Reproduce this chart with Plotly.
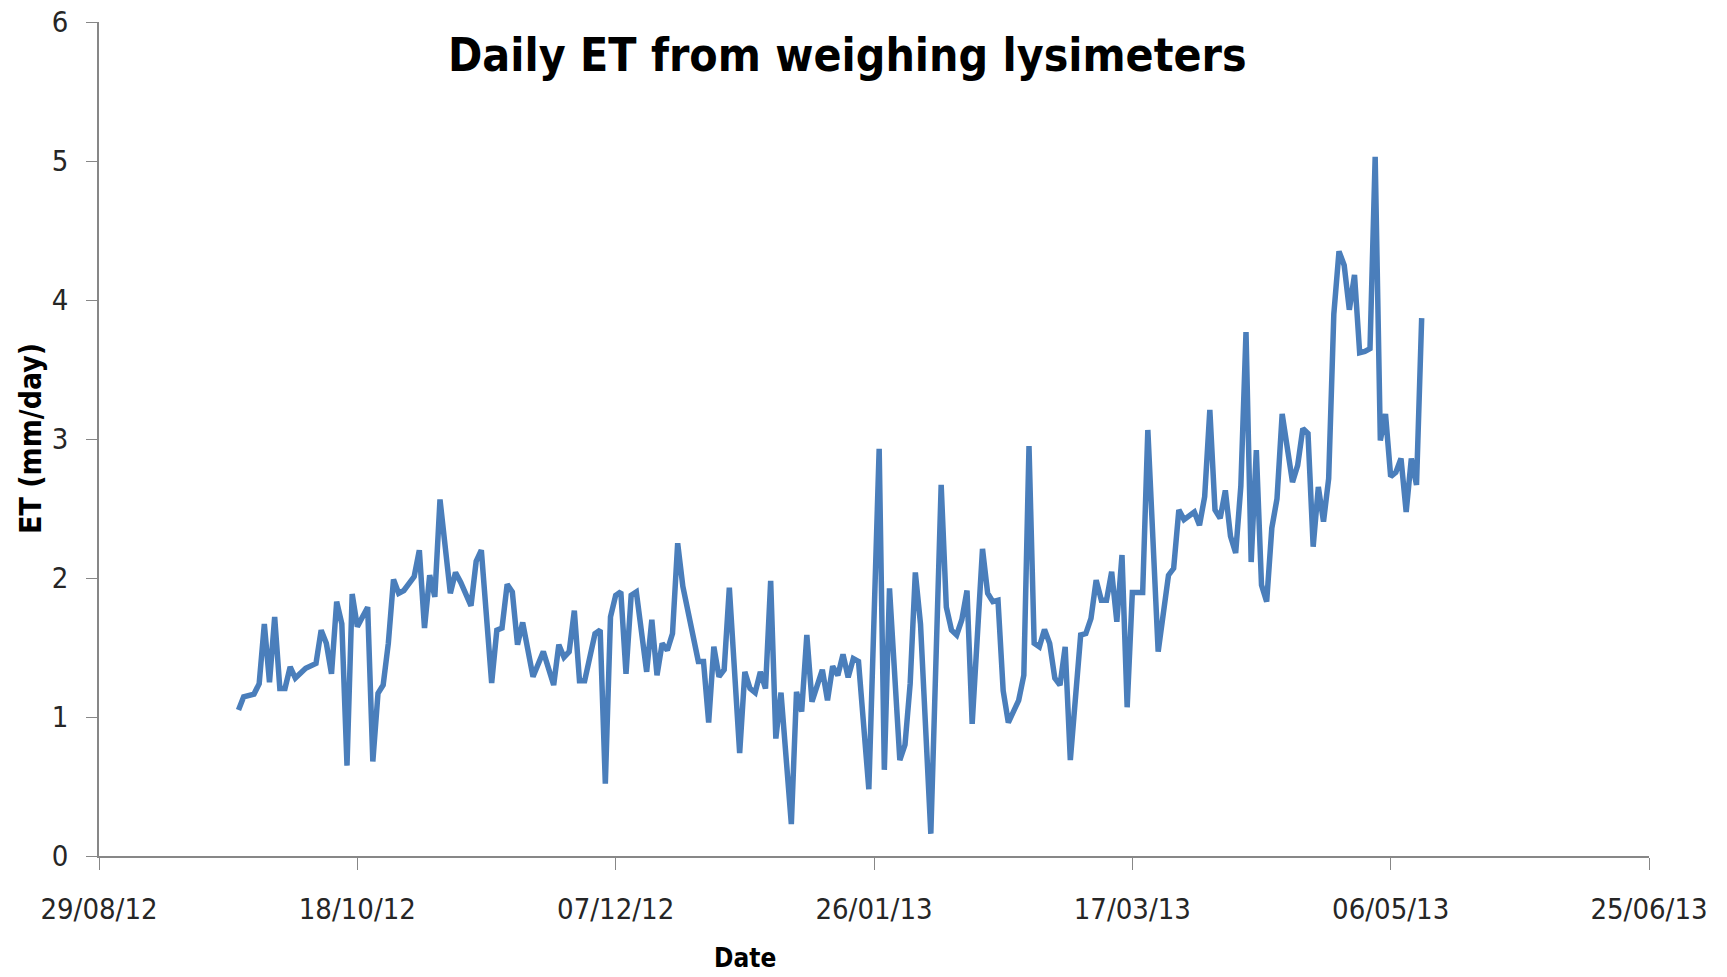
import plotly.graph_objects as go

dates = [
    "2012-09-25", "2012-09-26", "2012-09-28", "2012-09-29", "2012-09-30",
    "2012-10-01", "2012-10-02", "2012-10-03", "2012-10-04", "2012-10-05",
    "2012-10-06", "2012-10-08", "2012-10-10", "2012-10-11", "2012-10-12",
    "2012-10-13", "2012-10-14", "2012-10-15", "2012-10-16", "2012-10-17",
    "2012-10-18", "2012-10-20", "2012-10-21", "2012-10-22", "2012-10-23",
    "2012-10-24", "2012-10-25", "2012-10-26", "2012-10-27", "2012-10-29",
    "2012-10-30", "2012-10-31", "2012-11-01", "2012-11-02", "2012-11-03",
    "2012-11-05", "2012-11-06", "2012-11-07", "2012-11-09", "2012-11-10",
    "2012-11-11", "2012-11-13", "2012-11-14", "2012-11-15", "2012-11-16",
    "2012-11-17", "2012-11-18", "2012-11-19", "2012-11-21", "2012-11-23",
    "2012-11-25", "2012-11-26", "2012-11-27", "2012-11-28", "2012-11-29",
    "2012-11-30", "2012-12-01", "2012-12-03", "2012-12-04", "2012-12-05",
    "2012-12-06", "2012-12-07", "2012-12-08", "2012-12-09", "2012-12-10",
    "2012-12-11", "2012-12-13", "2012-12-14", "2012-12-15", "2012-12-16",
    "2012-12-17", "2012-12-18", "2012-12-19", "2012-12-20", "2012-12-23",
    "2012-12-24", "2012-12-25", "2012-12-26", "2012-12-27", "2012-12-28",
    "2012-12-29", "2012-12-31", "2013-01-01", "2013-01-02", "2013-01-03",
    "2013-01-04", "2013-01-05", "2013-01-06", "2013-01-07", "2013-01-08",
    "2013-01-10", "2013-01-11", "2013-01-12", "2013-01-13", "2013-01-14",
    "2013-01-16", "2013-01-17", "2013-01-18", "2013-01-19", "2013-01-20",
    "2013-01-21", "2013-01-22", "2013-01-23", "2013-01-25", "2013-01-27",
    "2013-01-28", "2013-01-29", "2013-01-31", "2013-02-01", "2013-02-02",
    "2013-02-03", "2013-02-04", "2013-02-06", "2013-02-08", "2013-02-09",
    "2013-02-10", "2013-02-11", "2013-02-12", "2013-02-13", "2013-02-14",
    "2013-02-16", "2013-02-17", "2013-02-18", "2013-02-19", "2013-02-20",
    "2013-02-21", "2013-02-23", "2013-02-24", "2013-02-25", "2013-02-26",
    "2013-02-27", "2013-02-28", "2013-03-01", "2013-03-02", "2013-03-03",
    "2013-03-04", "2013-03-05", "2013-03-07", "2013-03-08", "2013-03-09",
    "2013-03-10", "2013-03-11", "2013-03-12", "2013-03-13", "2013-03-14",
    "2013-03-15", "2013-03-16", "2013-03-17", "2013-03-18", "2013-03-19",
    "2013-03-20", "2013-03-22", "2013-03-24", "2013-03-25", "2013-03-26",
    "2013-03-27", "2013-03-29", "2013-03-30", "2013-03-31", "2013-04-01",
    "2013-04-02", "2013-04-03", "2013-04-04", "2013-04-05", "2013-04-06",
    "2013-04-07", "2013-04-08", "2013-04-09", "2013-04-10", "2013-04-11",
    "2013-04-12", "2013-04-13", "2013-04-14", "2013-04-15", "2013-04-17",
    "2013-04-18", "2013-04-19", "2013-04-20", "2013-04-21", "2013-04-22",
    "2013-04-23", "2013-04-24", "2013-04-25", "2013-04-26", "2013-04-27",
    "2013-04-28", "2013-04-29", "2013-04-30", "2013-05-01", "2013-05-02",
    "2013-05-03", "2013-05-04", "2013-05-05", "2013-05-06", "2013-05-07",
    "2013-05-08", "2013-05-09", "2013-05-10", "2013-05-11", "2013-05-12",
]

et_mm_day = [
    1.05, 1.145, 1.165, 1.24, 1.67,
    1.25, 1.72, 1.205, 1.205, 1.36,
    1.28, 1.35, 1.385, 1.625, 1.53,
    1.31, 1.83, 1.67, 0.65, 1.885,
    1.65, 1.79, 0.68, 1.17, 1.23,
    1.53, 1.99, 1.89, 1.91, 2.01,
    2.20, 1.64, 2.02, 1.865, 2.565,
    1.89, 2.04, 1.97, 1.80, 2.12,
    2.20, 1.245, 1.625, 1.64, 1.955,
    1.90, 1.52, 1.68, 1.29, 1.47,
    1.23, 1.52, 1.43, 1.47, 1.765,
    1.26, 1.26, 1.60, 1.625, 0.52,
    1.72, 1.875, 1.90, 1.31, 1.875,
    1.90, 1.325, 1.70, 1.30, 1.53,
    1.48, 1.60, 2.25, 1.94, 1.40,
    1.40, 0.96, 1.505, 1.29, 1.34,
    1.93, 0.74, 1.325, 1.205, 1.175,
    1.325, 1.205, 1.98, 0.845, 1.175,
    0.23, 1.18, 1.04, 1.59, 1.11,
    1.34, 1.12, 1.365, 1.30, 1.45,
    1.285, 1.42, 1.40, 0.48, 2.93,
    0.62, 1.925, 0.69, 0.80, 1.24,
    2.04, 1.67, 0.16, 2.67, 1.79,
    1.625, 1.59, 1.70, 1.91, 0.95,
    2.21, 1.89, 1.83, 1.84, 1.19,
    0.96, 1.12, 1.30, 2.95, 1.53,
    1.505, 1.63, 1.53, 1.28, 1.23,
    1.505, 0.69, 1.59, 1.60, 1.71,
    1.985, 1.84, 1.84, 2.045, 1.685,
    2.165, 1.07, 1.895, 1.895, 1.895,
    3.065, 1.47, 2.02, 2.07, 2.49,
    2.42, 2.475, 2.38, 2.585, 3.21,
    2.49, 2.43, 2.63, 2.30, 2.18,
    2.66, 3.77, 2.115, 2.92, 1.95,
    1.83, 2.36, 2.57, 3.18, 2.69,
    2.81, 3.075, 3.04, 2.225, 2.655,
    2.405, 2.715, 3.90, 4.35, 4.25,
    3.93, 4.18, 3.62, 3.63, 3.65,
    5.03, 2.99, 3.18, 2.73, 2.76,
    2.86, 2.475, 2.86, 2.67, 3.87,
]

x_range = ["2012-08-29", "2013-06-25"]
x_tick_start = "2012-08-29"
x_tick_days = 50
y_range = [0, 6]

title_text = "Daily ET from weighing lysimeters"
x_title = "Date"
y_title = "ET (mm/day)"

FONT = "Liberation Sans Narrow, DejaVu Sans Condensed, Arial Narrow, sans-serif"
AXIS_COLOR = "#878787"
TEXT_COLOR = "#262626"

fig = go.Figure()
fig.add_trace(go.Scatter(
    x=dates, y=et_mm_day, mode="lines",
    line=dict(color="#4a7ebb", width=5.5),
    showlegend=False, hoverinfo="x+y",
))

# the page body has an 8px default margin, so the margins are offset by 8px
fig.update_layout(
    width=1727, height=977,
    margin=dict(l=91, r=86, t=14, b=129),
    paper_bgcolor="white", plot_bgcolor="white",
    font=dict(family=FONT, color=TEXT_COLOR),
    showlegend=False,
)

fig.update_xaxes(
    type="date", range=x_range, automargin=False,
    tick0=x_tick_start, dtick=x_tick_days * 86400000,
    tickformat="%d/%m/%y",
    showgrid=False, zeroline=False,
    showline=True, linecolor=AXIS_COLOR, linewidth=1.5,
    ticks="outside", ticklen=12, tickwidth=1, tickcolor=AXIS_COLOR,
    tickfont=dict(family=FONT, size=29, color=TEXT_COLOR),
    ticklabelstandoff=14, ticklabeloverflow="allow",
)
fig.update_yaxes(
    range=y_range, dtick=1, tick0=0, automargin=False,
    showgrid=False, zeroline=False,
    showline=True, linecolor=AXIS_COLOR, linewidth=1.5,
    ticks="outside", ticklen=11, tickwidth=1, tickcolor=AXIS_COLOR,
    tickfont=dict(family=FONT, size=29, color=TEXT_COLOR),
    ticklabelstandoff=12, ticklabeloverflow="allow",
)

fig.add_annotation(
    text=f"<b>{title_text}</b>", xref="paper", yref="paper",
    x=0.483, y=0.960, xanchor="center", yanchor="middle", showarrow=False,
    font=dict(family=FONT, size=46, color="black"),
)
fig.add_annotation(
    text=f"<b>{x_title}</b>", xref="paper", yref="paper",
    x=0.417, y=-0.122, xanchor="center", yanchor="middle", showarrow=False,
    font=dict(family=FONT, size=26, color="black"),
)
fig.add_annotation(
    text=f"<b>{y_title}</b>", xref="paper", yref="paper",
    x=-0.0445, y=0.5, xanchor="center", yanchor="middle", showarrow=False,
    textangle=-90,
    font=dict(family=FONT, size=30, color="black"),
)

fig.write_html("out.html")
